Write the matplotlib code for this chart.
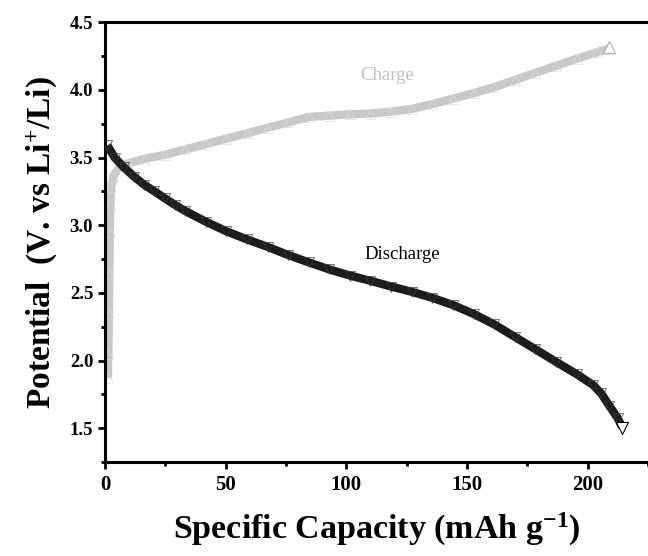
import numpy as np
import matplotlib
matplotlib.use('Agg')
import matplotlib.pyplot as plt

# Leitura aproximada da figura original
dis_cap = [1.0, 4.0, 7.7, 12.0, 16.2, 20.5, 24.7, 29.0, 33.3, 41.8, 50.3, 58.9, 67.4, 75.9,
           84.5, 93.0, 101.5, 110.0, 118.6, 127.1, 135.7, 144.2, 152.7, 161.3, 169.8,
           178.3, 186.9, 195.4, 202.2, 205.6, 209.0, 212.5, 214.2]
dis_pot = [3.59, 3.50, 3.43, 3.36, 3.30, 3.25, 3.20, 3.15, 3.105, 3.026, 2.955, 2.895, 2.84, 2.78,
           2.725, 2.673, 2.628, 2.589, 2.547, 2.508, 2.463, 2.41, 2.345, 2.267, 2.175,
           2.084, 1.99, 1.90, 1.82, 1.757, 1.665, 1.573, 1.51]

chg_cap = [1.2, 1.4, 1.6, 1.8, 2.0, 2.2, 2.6, 3.4, 6.0, 9.4, 16.2, 24.7, 33.3, 41.8, 50.3,
           58.9, 67.4, 75.9, 84.5, 93.0, 101.5, 110.0, 118.6, 127.1, 135.7, 144.2, 152.7,
           161.3, 169.8, 178.3, 186.9, 195.4, 203.9, 209.0]
chg_pot = [1.87, 2.05, 2.35, 2.65, 2.95, 3.15, 3.28, 3.36, 3.43, 3.456, 3.49, 3.52, 3.56, 3.60, 3.64,
           3.68, 3.72, 3.76, 3.80, 3.81, 3.82, 3.825, 3.84, 3.86, 3.895, 3.935, 3.976,
           4.02, 4.073, 4.126, 4.178, 4.23, 4.278, 4.305]

plt.rcParams['font.family'] = 'Liberation Serif'
plt.rcParams['mathtext.fontset'] = 'custom'
plt.rcParams['mathtext.rm'] = 'Liberation Serif'
plt.rcParams['mathtext.bf'] = 'Liberation Serif:bold'
plt.rcParams['mathtext.default'] = 'bf'

fig = plt.figure(figsize=(6.48, 5.56), dpi=100)
ax = fig.add_axes([0.162, 0.169, 0.838, 0.791])

# banda densa de marcadores -> linha grossa + triangulos abertos
ax.plot(dis_cap, dis_pot, color='#1c1c1c', linewidth=6, solid_capstyle='butt', zorder=3)
ax.plot(dis_cap, dis_pot, linestyle='none', marker='v', markersize=7,
        markerfacecolor='none', markeredgecolor='#3a3a3a', markeredgewidth=0.5, zorder=4)
ax.plot(dis_cap[-1], dis_pot[-1] - 0.01, marker='v', markersize=8, markerfacecolor='white',
        markeredgecolor='black', markeredgewidth=0.8, zorder=5)

ax.plot(chg_cap, chg_pot, color='#c8c8c8', linewidth=6, solid_capstyle='butt', zorder=2)
ax.plot(chg_cap, chg_pot, linestyle='none', marker='^', markersize=7,
        markerfacecolor='none', markeredgecolor='#dddddd', markeredgewidth=0.5, zorder=2.5)
ax.plot(chg_cap[-1], chg_pot[-1] + 0.01, marker='^', markersize=8, markerfacecolor='white',
        markeredgecolor='#b0b0b0', markeredgewidth=0.8, zorder=5)

ax.text(117, 4.11, 'Charge', color='#c0c0c0', fontsize=13.5, ha='center', va='center')
ax.text(123, 2.78, 'Discharge', color='black', fontsize=13.5, ha='center', va='center')

ax.set_xlim(0, 224.2)
ax.set_ylim(1.25, 4.5)
ax.set_xticks([0, 50, 100, 150, 200])
ax.set_xticks([25, 75, 125, 175, 225], minor=True)
ax.set_yticks([1.5, 2.0, 2.5, 3.0, 3.5, 4.0, 4.5])
ax.set_yticks(np.arange(1.25, 4.5, 0.5), minor=True)
ax.tick_params(which='major', direction='out', length=5, width=2)
ax.tick_params(which='minor', direction='out', length=3, width=2)
ax.tick_params(axis='x', which='major', labelsize=15, pad=4)
ax.tick_params(axis='y', which='major', labelsize=13.5, pad=3.5)
for lab in ax.get_xticklabels() + ax.get_yticklabels():
    lab.set_fontweight('bold')

for s in ['left', 'bottom', 'top']:
    ax.spines[s].set_linewidth(2.2)
ax.spines['right'].set_visible(False)

ax.set_xlabel('Specific Capacity (mAh g$^{-1}$)', fontsize=24.5, fontweight='bold', labelpad=12)
ax.set_ylabel('Potential  (V. vs Li$^{+}$/Li)', fontsize=24, fontweight='bold', labelpad=8)

fig.savefig('out.png', dpi=100)
